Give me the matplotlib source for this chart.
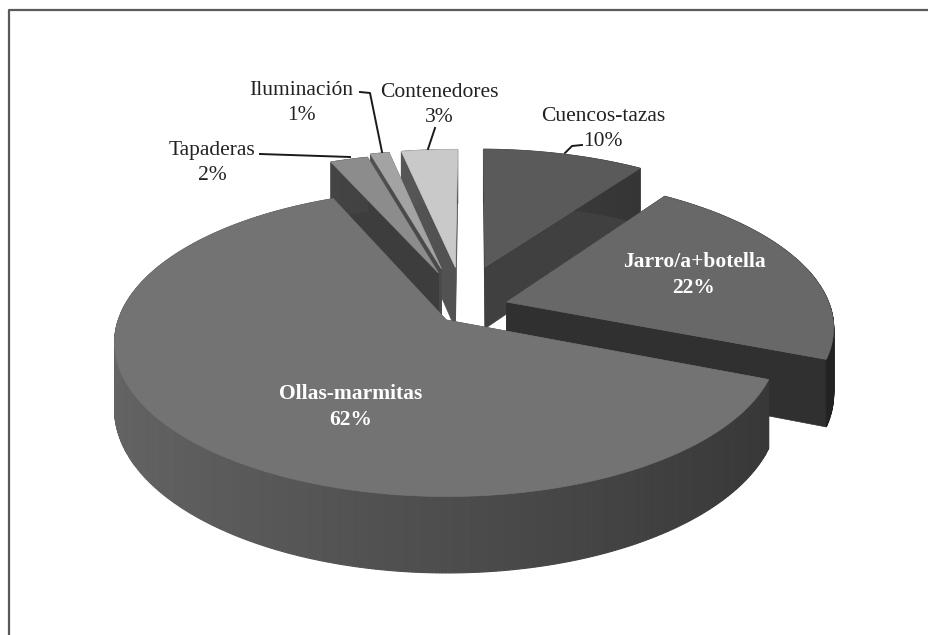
import numpy as np
import matplotlib
matplotlib.use("Agg")
import matplotlib.pyplot as plt
from matplotlib.patches import Polygon

categorias = ["Cuencos-tazas", "Jarro/a+botella", "Ollas-marmitas", "Tapaderas", "Iluminación", "Contenedores"]
valores = [10, 22, 62, 2, 1, 3]

color_top = ["#5a5a5a", "#686868", "#737373", "#8c8c8c", "#a3a3a3", "#c9c9c9"]
color_lado = ["#404040", "#303030", "#4d4d4d", "#3d3d3d", "#4a4a4a", "#525252"]
# desplazamiento de cada porcion en el plano de la tarta
explode = [(0.135, 0.373), (0.197, 0.122), (0.01, 0), (-0.015, 0.33), (-0.005, 0.36), (0.04, 0.37)]
orden = [5, 4, 3, 0, 1, 2]

cx, cy = 443, 320
f, g, k = 328, 150, 0.15
depth = 65

def proy(X, Y, z=0):
    d = 1 + k * Y
    return cx + f * X / d, cy - g * Y / d + z * depth / d

def arco(a0, a1, off):
    t = np.radians(np.linspace(a0, a1, max(int(a1 - a0) * 2, 8)))
    return off[0] + np.sin(t), off[1] + np.cos(t), t

fig = plt.figure(figsize=(9.29, 6.35), dpi=100)
ax = fig.add_axes([0, 0, 1, 1])
ax.set_xlim(0, 929)
ax.set_ylim(635, 0)
ax.axis("off")

# marco
ax.plot([9, 9, 929], [635, 9.5, 9.5], color="#5a5a5a", lw=1.6)

bordes = np.cumsum([0] + valores) / sum(valores) * 360
# correccion de angulos por la perspectiva del grafico 3D
bordes = np.interp(bordes, [0, 36, 115.2, 338.4, 360], [0.8, 35, 112, 337, 360.8])

for i in orden:
    a0, a1 = bordes[i], bordes[i + 1]
    off = explode[i]
    X, Y, t = arco(a0, a1, off)
    # caras radiales
    for j in [0, -1]:
        px, py = proy(np.array([off[0], X[j]]), np.array([off[1], Y[j]]))
        qx, qy = proy(np.array([X[j], off[0]]), np.array([Y[j], off[1]]), 1)
        ax.add_patch(Polygon(np.c_[np.r_[px, qx], np.r_[py, qy]], fc=color_lado[i], ec=color_lado[i], lw=0.5))
    # borde curvo
    base = np.array(matplotlib.colors.to_rgb(color_lado[i]))
    for j in range(len(t) - 1):
        xs, ys = X[j:j + 2], Y[j:j + 2]
        px, py = proy(xs, ys)
        qx, qy = proy(xs[::-1], ys[::-1], 1)
        luz = 1 + 0.3 * max(0, -np.sin(t[j])) - 0.3 * max(0, np.sin(t[j]))
        c = np.clip(base * luz, 0, 1)
        ax.add_patch(Polygon(np.c_[np.r_[px, qx], np.r_[py, qy]], fc=c, ec=c, lw=0.8))
    # cara superior
    px, py = proy(np.r_[off[0], X], np.r_[off[1], Y])
    ax.add_patch(Polygon(np.c_[px, py], fc=color_top[i], ec=color_top[i], lw=0.5))

fuente = "Liberation Serif"
for xt, yt, n, c, b in [(603, 129, 0, "#222222", "normal"), (301, 103, 4, "#222222", "normal"),
                        (439, 105, 5, "#222222", "normal"), (212, 163, 3, "#222222", "normal"),
                        (694, 275, 1, "white", "bold"), (351, 407, 2, "white", "bold")]:
    ax.text(xt, yt, f"{categorias[n]}\n{valores[n]}%", ha="center", va="center", color=c,
            fontsize=15.5, fontweight=b, family=fuente, linespacing=1.45)

# lineas guia
guias = [([565, 572, 582], [153, 146, 145]), ([260, 350], [154, 157]),
         ([360, 370, 382], [92, 93, 152]), ([435, 428], [128, 149])]
for xs, ys in guias:
    ax.plot(xs, ys, color="#1a1a1a", lw=1.4)

fig.savefig("out.png", dpi=100)
